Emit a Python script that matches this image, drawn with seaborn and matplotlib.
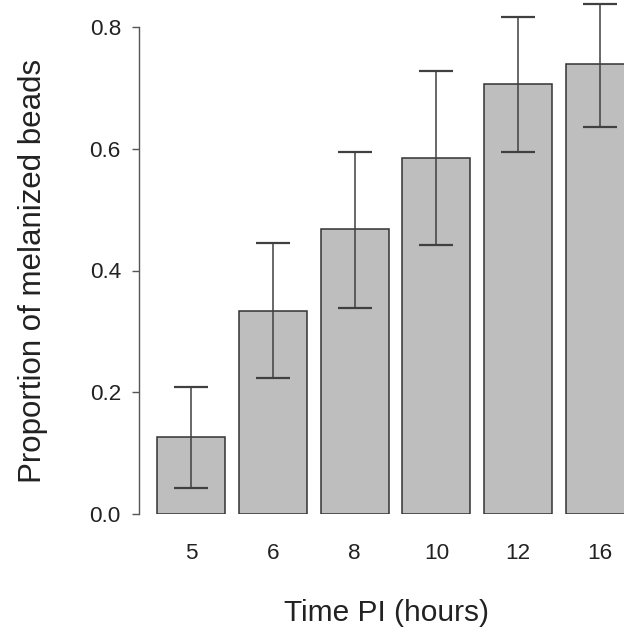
import matplotlib
matplotlib.use("Agg")
import matplotlib.pyplot as plt
import seaborn as sns
import pandas as pd
import numpy as np

times = ["5", "6", "8", "10", "12", "16"]
proportion = [0.126, 0.333, 0.468, 0.584, 0.706, 0.739]
err_low = [0.042, 0.223, 0.338, 0.442, 0.595, 0.636]
err_high = [0.208, 0.445, 0.595, 0.727, 0.816, 0.838]
y_ticks = [0.0, 0.2, 0.4, 0.6, 0.8]

df = pd.DataFrame({"time": times, "prop": proportion})

sns.set_style("white")
plt.rcParams["font.family"] = ["Liberation Sans", "DejaVu Sans"]

W, H = 624, 631
fig = plt.figure(figsize=(W / 100, H / 100), dpi=100)
left_px, right_px, bottom_px, top_px = 139, 624, 514, 0
ax = fig.add_axes([left_px / W, (H - bottom_px) / H,
                   (right_px - left_px) / W, (bottom_px - top_px) / H])

sns.barplot(data=df, x="time", y="prop", order=times, color="#bebebe",
            saturation=1, width=0.833, edgecolor="#333333", linewidth=1.1,
            errorbar=None, ax=ax)

yerr = np.array([np.array(proportion) - np.array(err_low),
                 np.array(err_high) - np.array(proportion)])
ax.errorbar(np.arange(len(times)), proportion, yerr=yerr, fmt="none",
            ecolor="#404040", elinewidth=1.1, capsize=12.2, capthick=1.6,
            clip_on=False, zorder=5)

px_per_unit = 608.75
ax.set_ylim(0, bottom_px / px_per_unit)
bar_px = 81.8
ax.set_xlim(-(191 - left_px) / bar_px, (right_px - 191) / bar_px)

ax.set_yticks(y_ticks)
ax.set_yticklabels([f"{v:.1f}" for v in y_ticks])

for s in ["top", "right", "bottom"]:
    ax.spines[s].set_visible(False)
ax.spines["left"].set_bounds(0, 0.8)
ax.spines["left"].set_color("#555555")
ax.spines["left"].set_linewidth(1.0)

ax.tick_params(axis="y", which="major", left=True, length=5, width=1.0,
               color="#555555", pad=8, labelsize=16.2, labelcolor="#222222")
ax.tick_params(axis="x", which="major", bottom=False, length=0, pad=21,
               labelsize=16.2, labelcolor="#222222")

ax.set_xlabel("Time PI (hours)", fontsize=21.5, color="#222222")
ax.set_ylabel("Proportion of melanized beads", fontsize=22.5, color="#222222")
ax.xaxis.set_label_coords((386 - left_px) / (right_px - left_px),
                          (bottom_px - 613) / (bottom_px - top_px))
ax.xaxis.label.set_verticalalignment("center")
ax.yaxis.set_label_coords((33 - left_px) / (right_px - left_px),
                          (bottom_px - 271) / (bottom_px - top_px))
ax.yaxis.label.set_verticalalignment("center")

fig.savefig("out.png", dpi=100)
